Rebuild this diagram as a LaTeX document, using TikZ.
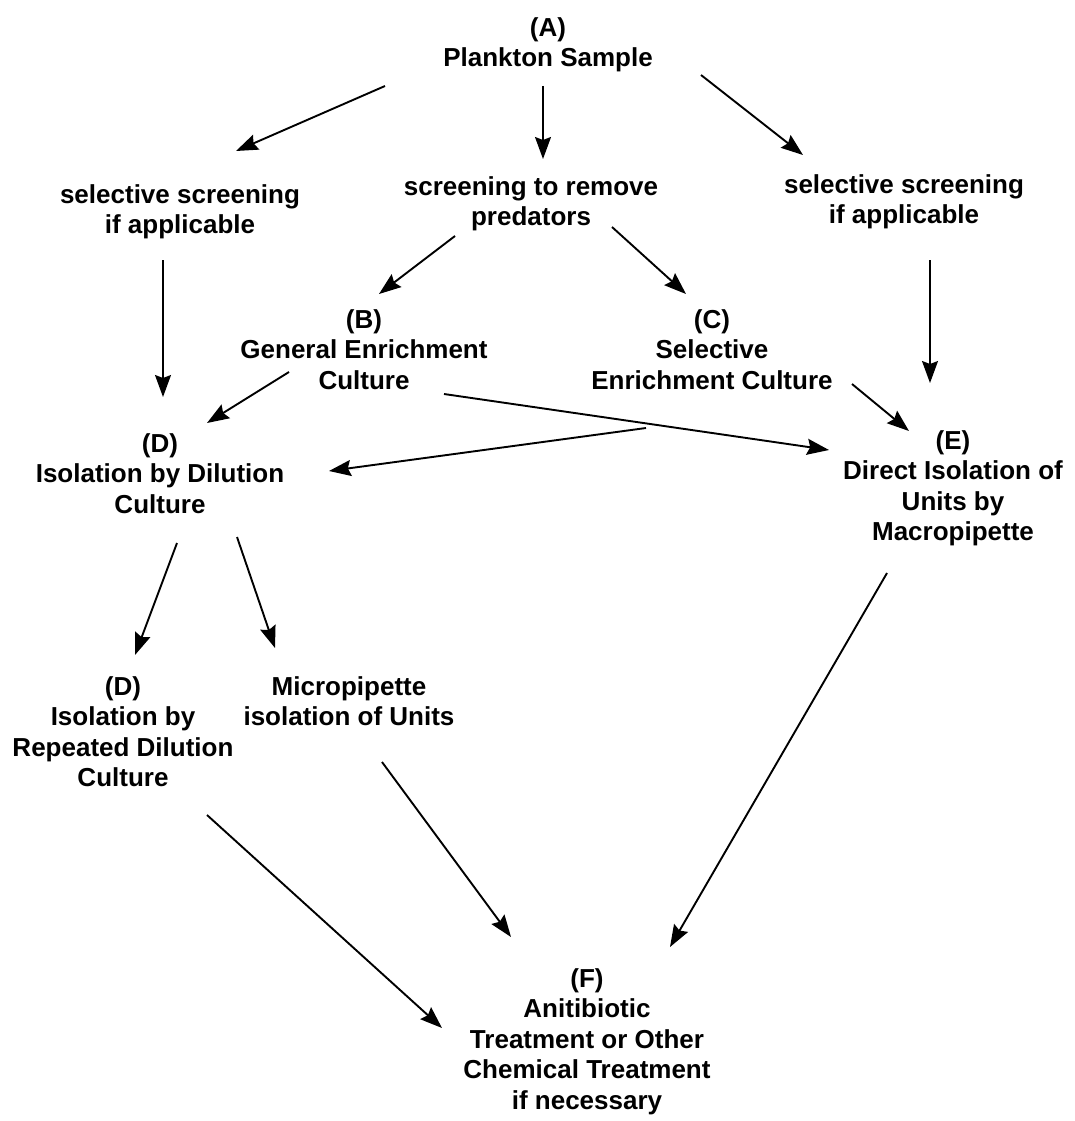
\documentclass[tikz,border=0pt]{standalone}
\usepackage{fontspec}
\setmainfont{Liberation Sans}
\usetikzlibrary{arrows.meta,calc}
\begin{document}
\begin{tikzpicture}[x=1pt,y=-1pt,
  lbl/.style={align=center, inner sep=0pt, anchor=north, font=\bfseries\fontsize{26}{30.5}\selectfont},
  arr/.style={-{Stealth[length=22pt,width=16pt,inset=3pt]}, line width=1.9pt},
  varr/.style={arr, line width=1.4pt}]
\useasboundingbox (0,0) rectangle (1074,1121);
\fill[white] (0,0) rectangle (1074,1121);

\node[lbl] (A)  at (548,17)  {(A)\\Plankton Sample};
\node[lbl] (L1) at (180,184) {selective screening\\if applicable};
\node[lbl] (M1) at (531,176) {screening to remove\\predators};
\node[lbl] (R1) at (904,174) {selective screening\\if applicable};
\node[lbl] (B)  at (364,309) {(B)\\General Enrichment\\Culture};
\node[lbl] (C)  at (712,309) {(C)\\Selective\\Enrichment Culture};
\node[lbl] (D)  at (160,433) {(D)\\Isolation by Dilution\\Culture};
\node[lbl] (E)  at (953,430) {(E)\\Direct Isolation of\\Units by\\Macropipette};
\node[lbl] (D2) at (123,676) {(D)\\Isolation by\\Repeated Dilution\\Culture};
\node[lbl] (MP) at (349,676) {Micropipette\\isolation of Units};
\node[lbl] (F)  at (587,968) {(F)\\Anitibiotic\\Treatment or Other\\Chemical Treatment\\if necessary};

\draw[arr]  ($(A.north)+(-163,69)$) -- ($(L1.north)+(56,-33)$);
\draw[varr] ($(A.north)+(-5,69)$)   -- ($(M1.north)+(12,-17)$);
\draw[arr]  ($(A.north)+(153,58)$)  -- ($(R1.north)+(-101,-19)$);
\draw[arr]  ($(M1.north)+(-76,60)$) -- ($(B.north)+(15,-15)$);
\draw[arr]  ($(M1.north)+(81,51)$)  -- ($(C.north)+(-26,-15)$);
\draw[varr] ($(L1.north)+(-17,76)$) -- ($(D.north)+(3,-36)$);
\draw[varr] ($(R1.north)+(26,86)$)  -- ($(E.north)+(-23,-47)$);
\draw[arr]  ($(B.north)+(-75,63)$)  -- ($(D.north)+(47,-10)$);
\draw[arr]  ($(B.north)+(80,85)$)   -- ($(E.north)+(-124,20)$);
\draw[arr]  ($(C.north)+(-66,119)$) -- ($(D.north)+(169,38)$);
\draw[arr]  ($(C.north)+(140,75)$)  -- ($(E.north)+(-44,1)$);
\draw[arr]  ($(D.north)+(17,110)$)  -- ($(D2.north)+(12,-21)$);
\draw[arr]  ($(D.north)+(77,104)$)  -- ($(MP.north)+(-74,-28)$);
\draw[arr]  ($(E.north)+(-66,143)$) -- ($(F.north)+(83,-21)$);
\draw[arr]  ($(MP.north)+(33,86)$)  -- ($(F.north)+(-76,-31)$);
\draw[arr]  ($(D2.north)+(84,139)$) -- ($(F.north)+(-145,60)$);
\end{tikzpicture}
\end{document}
